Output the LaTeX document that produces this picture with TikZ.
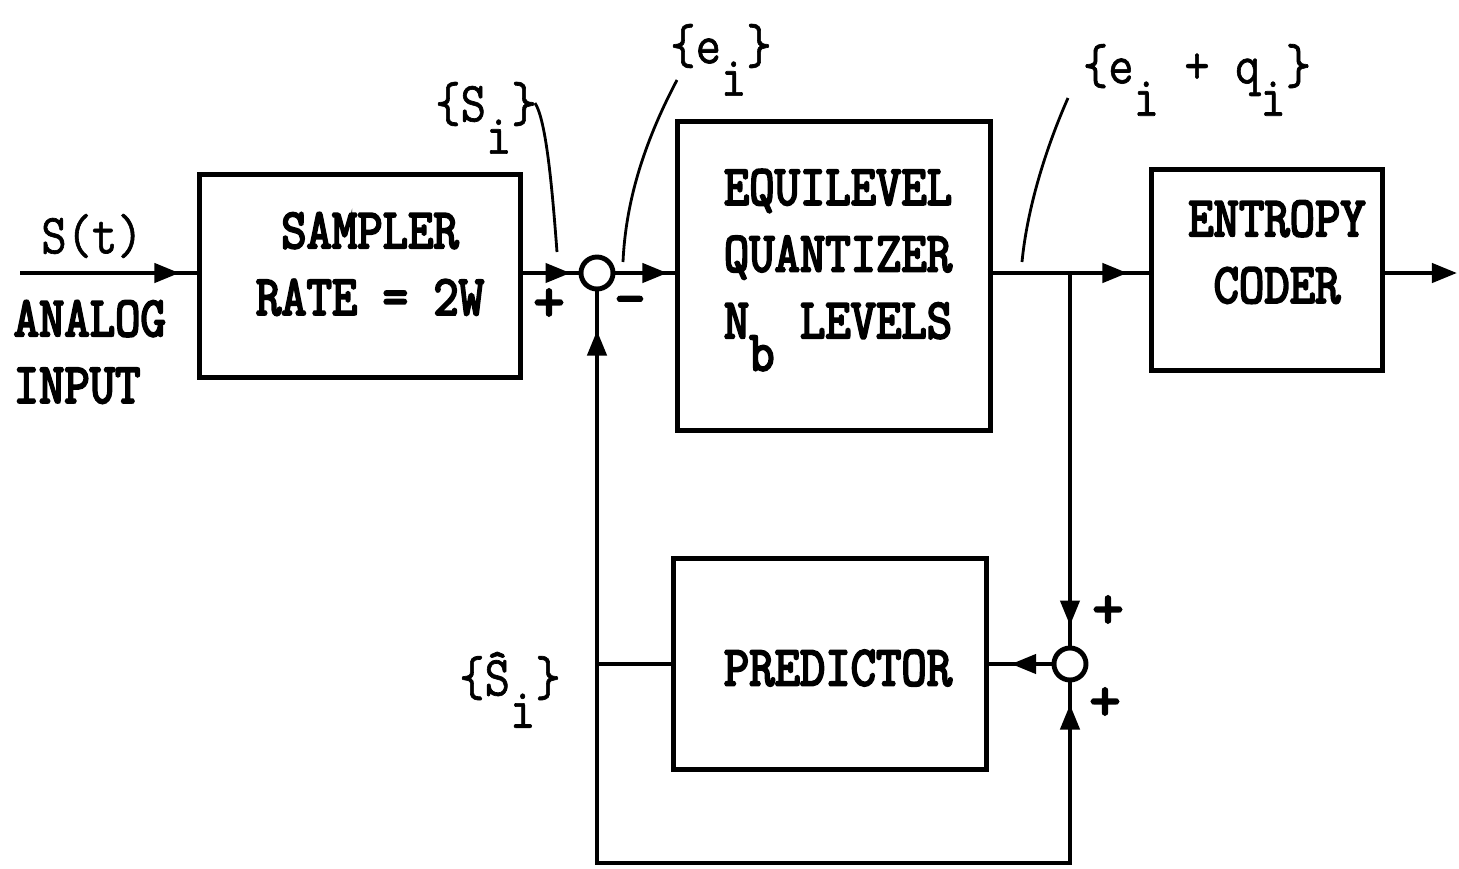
\documentclass[tikz,border=0pt]{standalone}
\usepackage{fontspec}
\newfontfamily\bttfam{Latin Modern Mono}[FakeBold=4]
\newfontfamily\rttfam{Latin Modern Mono}[FakeBold=1.2]
\usetikzlibrary{arrows.meta,decorations.markings}
\newcommand{\tall}[1]{\scalebox{1}[1.15]{#1}}
\newcommand{\lowr}[1]{\raisebox{-8pt}[0pt][0pt]{#1}}
\begin{document}
\begin{tikzpicture}[x=0.01cm,y=-0.01cm,
  blk/.style={draw, line width=1.4pt, inner sep=0pt},
  wire/.style={line width=1.2pt},
  lead/.style={line width=0.8pt},
  sumnode/.style={circle, draw, line width=1.4pt, minimum size=0.32cm, inner sep=0pt},
  btxt/.style={font=\fontsize{14}{16.5}\selectfont\bttfam, inner sep=0pt},
  sgn/.style={font=\fontsize{17}{19}\selectfont\bttfam, inner sep=0pt},
  ltxt/.style={font=\fontsize{14}{16.5}\selectfont\rttfam, inner sep=0pt},
  tipat/.style={postaction={decorate}, decoration={markings, mark=at position #1 with {\arrow{Triangle[length=0.25cm,width=0.19cm]}}}},
]
\useasboundingbox (0,0) rectangle (1459,869);

% blocks
\node[blk, minimum width=3.2cm, minimum height=2.02cm] (samp) at (360,276) {};
\node[blk, minimum width=3.12cm, minimum height=3.08cm] (quant) at (834,276) {};
\node[blk, minimum width=2.30cm, minimum height=2.0cm] (ent) at (1267,270) {};
\node[blk, minimum width=3.13cm, minimum height=2.11cm] (pred) at (830,664) {};

% block texts
\node[btxt] (sampt) at (370,268) {\tall{\begin{tabular}{@{}c@{}}SAMPLER\\RATE = 2W\end{tabular}}};
\node[btxt] (quantt) at (838,258) {\tall{\begin{tabular}{@{}c@{}}EQUILEVEL\\QUANTIZER\\N\lowr{b} LEVELS\end{tabular}}};
\node[btxt] (entt) at (1277,256) {\tall{\begin{tabular}{@{}c@{}}ENTROPY\\CODER\end{tabular}}};
\node[btxt] (predt) at (838,668) {\tall{PREDICTOR}};

% summing junctions
\node[sumnode] (s1) at (597,273) {};
\node[sumnode] (s2) at (1070,664) {};

% signs
\node[sgn] (p1) at (549,305) {+};
\node[sgn] (m1) at (630,307) {–};
\node[sgn] (p2) at (1108,612) {+};
\node[sgn] (p3) at (1105,704) {+};

% labels
\node[ltxt] (st) at (92,236) {\tall{S(t)}};
\node[btxt, anchor=west] (ain) at (13,356) {\tall{\begin{tabular}{@{}l@{}}ANALOG\\INPUT\end{tabular}}};
\node[ltxt] (lsi) at (486,104) {\tall{\{S\lowr{i}\}}};
\node[ltxt] (lei) at (721,46) {\tall{\{e\lowr{i}\}}};
\node[ltxt] (leq) at (1197,70) {\tall{\{e\lowr{i} + q\lowr{i}\}}};
\node[ltxt] (lsh) at (510,676) {\tall{\{\^S\lowr{i}\}}};

% signal path
\coordinate (inp) at (20,273);
\coordinate (out) at (1457,273);
\draw[wire, tipat=-0.18cm] (inp) -- (inp -| samp.west);
\draw[wire, tipat=-0.08cm] (s1.west -| samp.east) -- (s1.west);
\draw[wire, tipat=-0.08cm] (s1.east) -- (s1.east -| quant.west);
\draw[wire, tipat=-0.22cm] (s1 -| quant.east) -- (s1 -| ent.west);
\draw[wire, -{Triangle[length=0.25cm,width=0.19cm]}] (s1 -| ent.east) -- (out);

% feedback
\coordinate (br) at (s2 |- s1);
\coordinate (j1) at (s1 |- pred.west);
\coordinate (bl) at (597,863);
\draw[wire, tipat=-0.2cm] (br) -- (s2.north);
\draw[wire, tipat=-0.22cm] (s2.west) -- (s2.west -| pred.east);
\draw[wire] (pred.west) -- (j1);
\draw[wire, tipat=-0.39cm] (j1) -- (s1.south);
\draw[wire, tipat=-0.22cm] (j1) -- (bl) -| (s2.south);

% leader lines
\coordinate (a1) at (535,103);
\coordinate (a2) at (557,252);
\coordinate (b1) at (677,80);
\coordinate (b2) at (623,262);
\coordinate (c1) at (1068,98);
\coordinate (c2) at (1022,262);
\draw[lead] (a1) .. controls (546,120) and (552,185) .. (a2);
\draw[lead] (b1) .. controls (648,135) and (626,195) .. (b2);
\draw[lead] (c1) .. controls (1045,150) and (1027,210) .. (c2);
\end{tikzpicture}
\end{document}
